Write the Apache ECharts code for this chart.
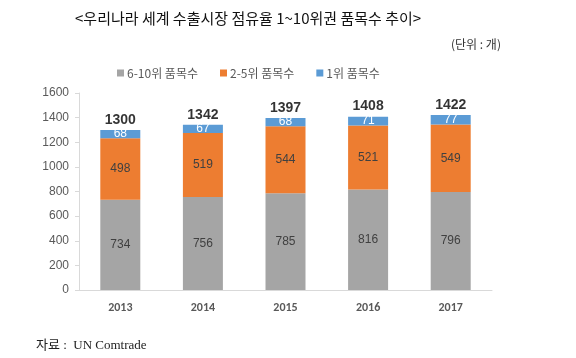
<!DOCTYPE html>
<html>
<head>
<meta charset="utf-8">
<script src="https://cdn.jsdelivr.net/npm/echarts@6/dist/echarts.min.js"></script>
<style>html,body{margin:0;padding:0;background:#fff;}#c{width:576px;height:358px;}</style>
</head>
<body>
<div id="c"></div>
<script>
const categories = ['2013', '2014', '2015', '2016', '2017'];
const rank6to10 = [734, 756, 785, 816, 796];
const rank2to5 = [498, 519, 544, 521, 549];
const rank1 = [68, 67, 68, 71, 77];
const totals = [1300, 1342, 1397, 1408, 1422];
const seriesNames = ['6-10위 품목수', '2-5위 품목수', '1위 품목수'];

const chart = echarts.init(document.getElementById('c'));
const cjk = '"Noto Sans CJK KR", "Noto Sans", sans-serif';
chart.setOption({
  animation: false,
  title: [
    { text: '<우리나라 세계 수출시장 점유율 1~10위권 품목수 추이>', left: 70, top: 6,
      textStyle: { fontFamily: cjk, fontSize: 15, fontWeight: 'normal', color: '#111' } },
    { text: '(단위 : 개)', left: 446, top: 33,
      textStyle: { fontFamily: cjk, fontSize: 12, fontWeight: 'normal', color: '#333' } },
    { text: '자료 :  UN Comtrade', left: 31, top: 334,
      textStyle: { fontFamily: '"Liberation Serif", "Noto Sans CJK KR", serif', fontSize: 13, fontWeight: 'normal', color: '#222' } }
  ],
  legend: {
    data: seriesNames, left: 112, top: 62,
    itemWidth: 7, itemHeight: 7, itemGap: 22, icon: 'rect',
    textStyle: { fontFamily: cjk, fontSize: 12, color: '#595959', padding: [0, 0, 0, -2] }
  },
  grid: { left: 79, right: 84, top: 93, bottom: 68 },
  xAxis: {
    type: 'category', data: categories,
    axisLine: { lineStyle: { color: '#d9d9d9' } },
    axisTick: { show: false },
    axisLabel: { color: '#595959', fontWeight: 'bold', fontSize: 12, margin: 12, fontFamily: 'Calibri, "Liberation Sans", sans-serif' }
  },
  yAxis: {
    type: 'value', min: 0, max: 1600, interval: 200,
    axisLine: { show: true, lineStyle: { color: '#d9d9d9' } },
    axisTick: { show: true, length: 4, lineStyle: { color: '#d9d9d9' } },
    splitLine: { show: false },
    axisLabel: { color: '#595959', fontSize: 12, margin: 10, fontFamily: '"Liberation Sans", sans-serif',
      formatter: function (v) { return String(v); } }
  },
  series: [
    { name: seriesNames[0], type: 'bar', stack: 't', data: rank6to10, barWidth: 40,
      itemStyle: { color: '#A5A5A5' },
      label: { show: true, position: 'inside', color: '#404040', fontSize: 12, fontFamily: '"Liberation Sans", sans-serif' } },
    { name: seriesNames[1], type: 'bar', stack: 't', data: rank2to5, barWidth: 40,
      itemStyle: { color: '#ED7D31' },
      label: { show: true, position: 'inside', color: '#404040', fontSize: 12, fontFamily: '"Liberation Sans", sans-serif' } },
    { name: seriesNames[2], type: 'bar', stack: 't', data: rank1, barWidth: 40,
      itemStyle: { color: '#5B9BD5' },
      label: { show: true, position: 'inside', color: '#fff', fontSize: 12, fontFamily: '"Liberation Sans", sans-serif' } },
    { name: 'total', type: 'scatter', data: totals, symbolSize: 0, silent: true,
      label: { show: true, position: 'top', distance: 3, color: '#000', fontWeight: 'bold', fontSize: 14, fontFamily: '"Liberation Sans", sans-serif' } }
  ]
});
</script>
</body>
</html>
